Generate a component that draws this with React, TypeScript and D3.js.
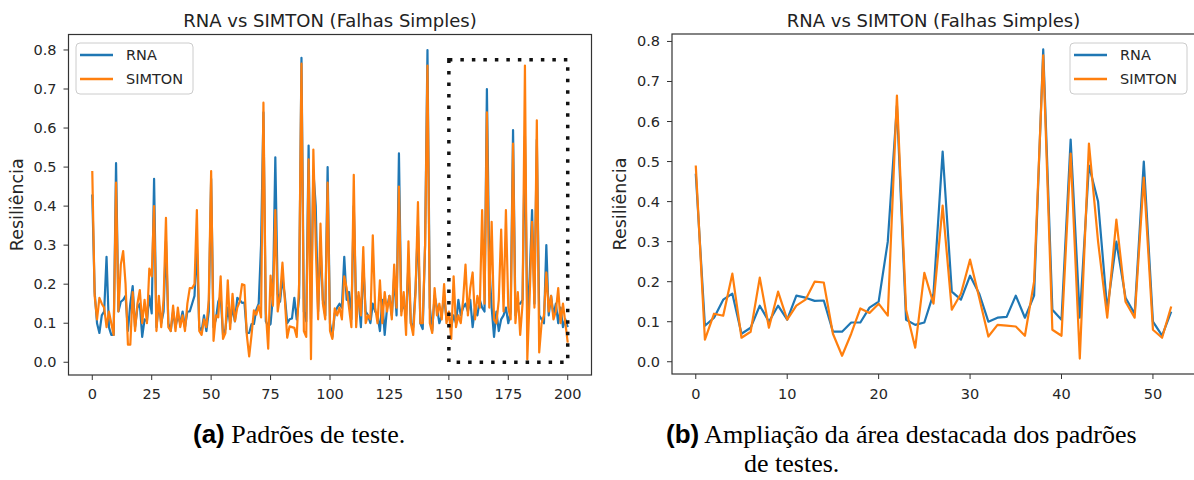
import React from 'react';
import * as d3 from 'd3';

// test patterns 0..49
const rnaHead = [0.43, 0.18, 0.10, 0.075, 0.12, 0.13, 0.27, 0.09, 0.07, 0.07, 0.51, 0.13, 0.155, 0.16, 0.17, 0.08, 0.15, 0.195, 0.09, 0.14, 0.15, 0.065, 0.11, 0.105, 0.17, 0.125, 0.47, 0.09, 0.15, 0.10, 0.13, 0.31, 0.10, 0.08, 0.13, 0.09, 0.12, 0.10, 0.13, 0.09, 0.13, 0.13, 0.15, 0.17, 0.30, 0.09, 0.08, 0.12, 0.08, 0.13];
const simtonHead = [0.49, 0.17, 0.11, 0.165, 0.15, 0.14, 0.09, 0.13, 0.10, 0.07, 0.46, 0.13, 0.25, 0.285, 0.20, 0.045, 0.045, 0.18, 0.08, 0.15, 0.185, 0.10, 0.16, 0.10, 0.24, 0.22, 0.40, 0.08, 0.17, 0.09, 0.16, 0.37, 0.09, 0.08, 0.145, 0.08, 0.14, 0.09, 0.12, 0.08, 0.15, 0.19, 0.19, 0.20, 0.39, 0.08, 0.07, 0.11, 0.09, 0.16];

// highlighted area (patterns 50..102), shown enlarged in (b)
const rnaZoom = [0.47, 0.09, 0.11, 0.155, 0.17, 0.07, 0.085, 0.14, 0.10, 0.14, 0.105, 0.165, 0.16, 0.152, 0.153, 0.075, 0.075, 0.098, 0.098, 0.135, 0.15, 0.30, 0.64, 0.105, 0.092, 0.098, 0.17, 0.525, 0.175, 0.155, 0.215, 0.17, 0.10, 0.11, 0.112, 0.165, 0.11, 0.165, 0.78, 0.13, 0.105, 0.555, 0.11, 0.49, 0.40, 0.13, 0.30, 0.16, 0.12, 0.50, 0.10, 0.065, 0.125];
const simtonZoom = [0.49, 0.055, 0.12, 0.115, 0.22, 0.06, 0.075, 0.21, 0.085, 0.175, 0.105, 0.14, 0.155, 0.20, 0.198, 0.07, 0.015, 0.07, 0.133, 0.122, 0.145, 0.115, 0.665, 0.13, 0.035, 0.222, 0.145, 0.39, 0.13, 0.17, 0.255, 0.16, 0.063, 0.092, 0.09, 0.088, 0.065, 0.20, 0.765, 0.08, 0.065, 0.52, 0.008, 0.545, 0.30, 0.11, 0.355, 0.15, 0.11, 0.46, 0.08, 0.06, 0.138];

// patterns 103..200
const rnaTail = [0.14, 0.15, 0.14, 0.27, 0.16, 0.18, 0.11, 0.40, 0.14, 0.17, 0.09, 0.25, 0.13, 0.12, 0.10, 0.15, 0.13, 0.12, 0.08, 0.16, 0.07, 0.14, 0.17, 0.12, 0.22, 0.12, 0.535, 0.13, 0.15, 0.12, 0.25, 0.10, 0.09, 0.19, 0.35, 0.10, 0.085, 0.30, 0.80, 0.14, 0.08, 0.17, 0.14, 0.10, 0.12, 0.17, 0.11, 0.12, 0.09, 0.12, 0.10, 0.16, 0.12, 0.14, 0.15, 0.13, 0.16, 0.09, 0.14, 0.12, 0.16, 0.14, 0.13, 0.70, 0.25, 0.14, 0.065, 0.13, 0.08, 0.11, 0.12, 0.14, 0.10, 0.13, 0.595, 0.12, 0.15, 0.15, 0.16, 0.58, 0.11, 0.22, 0.39, 0.15, 0.57, 0.12, 0.11, 0.10, 0.30, 0.12, 0.17, 0.12, 0.15, 0.10, 0.14, 0.09, 0.11, 0.09];
const simtonTail = [0.12, 0.14, 0.11, 0.22, 0.19, 0.14, 0.09, 0.48, 0.09, 0.18, 0.12, 0.295, 0.10, 0.12, 0.11, 0.325, 0.14, 0.10, 0.21, 0.10, 0.18, 0.13, 0.17, 0.11, 0.25, 0.14, 0.45, 0.12, 0.18, 0.07, 0.31, 0.10, 0.07, 0.18, 0.41, 0.10, 0.10, 0.30, 0.76, 0.10, 0.075, 0.19, 0.12, 0.15, 0.11, 0.20, 0.10, 0.13, 0.06, 0.22, 0.09, 0.12, 0.10, 0.16, 0.25, 0.12, 0.19, 0.23, 0.11, 0.17, 0.14, 0.39, 0.15, 0.64, 0.14, 0.36, 0.11, 0.10, 0.16, 0.34, 0.13, 0.39, 0.14, 0.11, 0.56, 0.10, 0.18, 0.07, 0.15, 0.76, 0.007, 0.17, 0.36, 0.14, 0.62, 0.025, 0.10, 0.12, 0.23, 0.13, 0.17, 0.11, 0.13, 0.19, 0.10, 0.15, 0.10, 0.05];

const rnaAll = [...rnaHead, ...rnaZoom, ...rnaTail];
const simtonAll = [...simtonHead, ...simtonZoom, ...simtonTail];

const xTicksA = [0, 25, 50, 75, 100, 125, 150, 175, 200];
const xTicksB = [0, 10, 20, 30, 40, 50];
const yTicks = [0.0, 0.1, 0.2, 0.3, 0.4, 0.5, 0.6, 0.7, 0.8];
const highlight = { x0: 150, x1: 200, y0: 0, y1: 0.775 };

const BLUE = '#1f77b4';
const ORANGE = '#ff7f0e';
const INK = '#333';
const SANS = 'DejaVu Sans, sans-serif';

type PanelProps = {
  left: number; right: number; top: number; bottom: number;
  rna: number[]; simton: number[]; xTicks: number[];
  legendX: number; box?: typeof highlight;
};

function Panel({ left, right, top, bottom, rna, simton, xTicks, legendX, box }: PanelProps) {
  const n = rna.length - 1;
  const lo = Math.min(d3.min(rna)!, d3.min(simton)!);
  const hi = Math.max(d3.max(rna)!, d3.max(simton)!);
  const pad = (hi - lo) * 0.05;
  const x = d3.scaleLinear().domain([-n * 0.05, n * 1.05]).range([left, right]);
  const y = d3.scaleLinear().domain([lo - pad, hi + pad]).range([bottom, top]);
  const line = d3.line<number>().x((_, i) => x(i)).y(d => y(d));
  const cx = (left + right) / 2;

  return (
    <g>
      <text x={cx} y={27} textAnchor="middle" fontFamily={SANS} fontSize={18} fill="#222">
        RNA vs SIMTON (Falhas Simples)
      </text>
      <path d={line(rna)!} fill="none" stroke={BLUE} strokeWidth={2.2} strokeLinejoin="round" />
      <path d={line(simton)!} fill="none" stroke={ORANGE} strokeWidth={2.2} strokeLinejoin="round" />
      {box && (
        <rect x={x(box.x0)} y={y(box.y1)} width={x(box.x1) - x(box.x0)} height={y(box.y0) - y(box.y1)}
          fill="none" stroke="#111" strokeWidth={3.5} strokeDasharray="3.5 8" />
      )}
      <rect x={left} y={top} width={right - left} height={bottom - top} fill="none" stroke={INK} strokeWidth={1.2} />
      {xTicks.map(t => (
        <g key={'x' + t}>
          <line x1={x(t)} x2={x(t)} y1={bottom} y2={bottom + 5} stroke={INK} />
          <text x={x(t)} y={399} textAnchor="middle" fontFamily={SANS} fontSize={14.5} fill="#262626">{t}</text>
        </g>
      ))}
      {yTicks.map(t => (
        <g key={'y' + t}>
          <line x1={left - 5} x2={left} y1={y(t)} y2={y(t)} stroke={INK} />
          <text x={left - 12} y={y(t) + 5} textAnchor="end" fontFamily={SANS} fontSize={14.5} fill="#262626">
            {d3.format('.1f')(t)}
          </text>
        </g>
      ))}
      <text transform={`translate(${left - 46},${(top + bottom) / 2}) rotate(-90)`} textAnchor="middle"
        fontFamily={SANS} fontSize={17.5} fill="#262626">Resiliência</text>
      <g transform={`translate(${legendX},43)`}>
        <rect width={117} height={51} rx={4} fill="#fff" fillOpacity={0.8} stroke="#ccc" />
        <line x1={4} x2={37} y1={12} y2={12} stroke={BLUE} strokeWidth={2.5} />
        <line x1={4} x2={37} y1={36} y2={36} stroke={ORANGE} strokeWidth={2.5} />
        <text x={50} y={17} fontFamily={SANS} fontSize={14.5} fill="#262626">RNA</text>
        <text x={50} y={41} fontFamily={SANS} fontSize={14.5} fill="#262626">SIMTON</text>
      </g>
    </g>
  );
}

export default function App() {
  return (
    <svg width={1194} height={480} style={{ position: 'absolute', left: 0, top: 0, background: '#fff' }}>
      <Panel left={68.5} right={591.5} top={34.5} bottom={375} rna={rnaAll} simton={simtonAll}
        xTicks={xTicksA} legendX={76} box={highlight} />
      <Panel left={672} right={1195} top={34} bottom={374} rna={rnaZoom} simton={simtonZoom}
        xTicks={xTicksB} legendX={1070} />
      <text x={193} y={443} fontSize={26}>
        <tspan fontFamily="Liberation Sans, Arial, sans-serif" fontWeight="bold">(a)</tspan>
        <tspan fontFamily="Liberation Serif, Times New Roman, serif"> Padrões de teste.</tspan>
      </text>
      <text x={666} y={443} fontSize={26}>
        <tspan fontFamily="Liberation Sans, Arial, sans-serif" fontWeight="bold">(b)</tspan>
        <tspan fontFamily="Liberation Serif, Times New Roman, serif"> Ampliação da área destacada dos padrões</tspan>
      </text>
      <text x={744} y={472} fontSize={26} fontFamily="Liberation Serif, Times New Roman, serif">de testes.</text>
    </svg>
  );
}
